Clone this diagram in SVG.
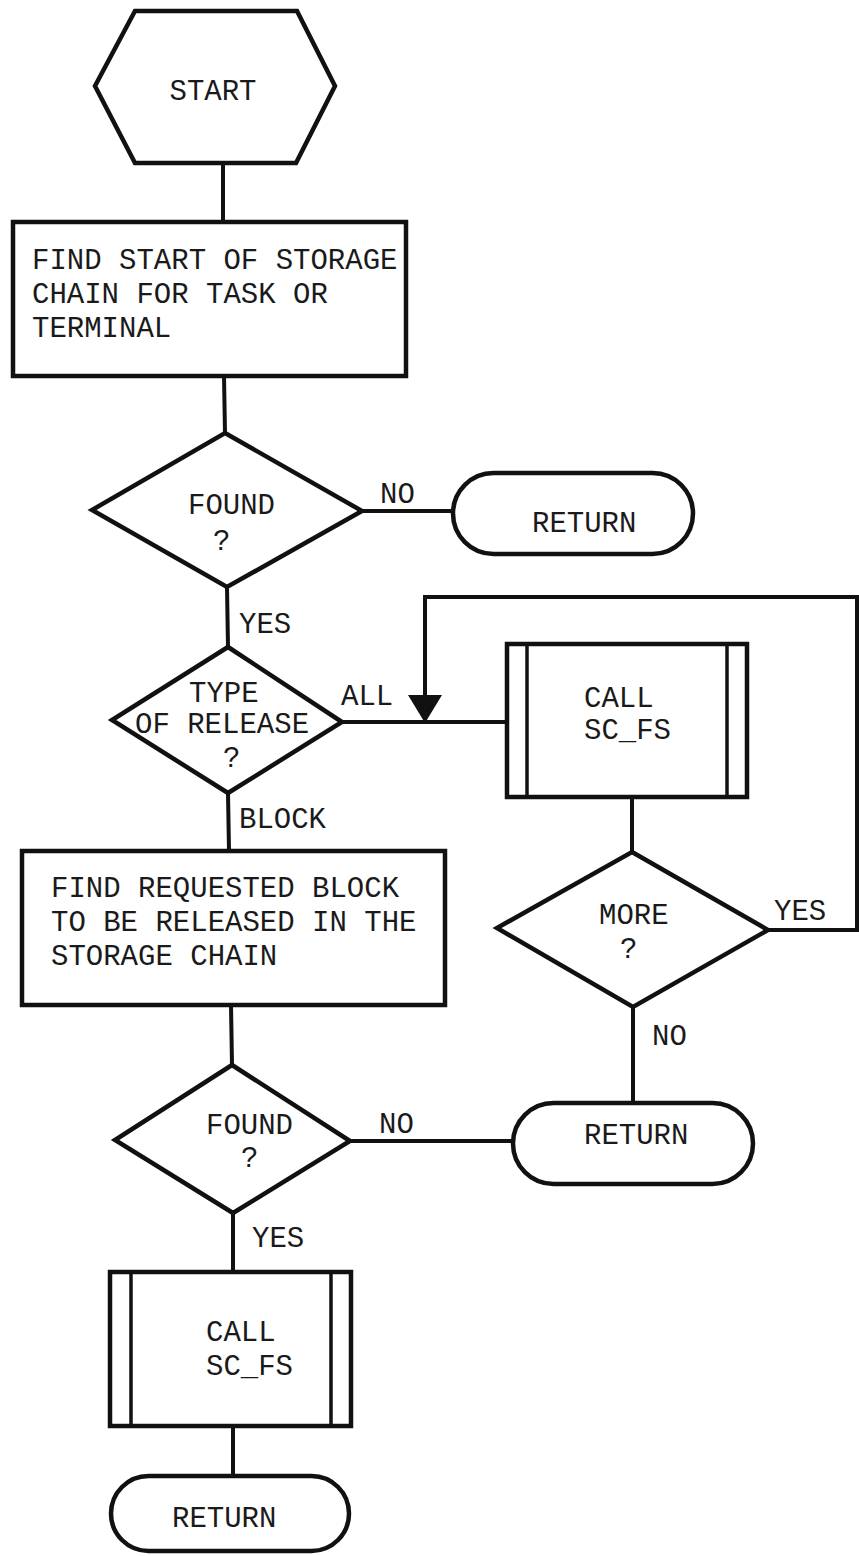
<svg xmlns="http://www.w3.org/2000/svg" width="859" height="1556" viewBox="0 0 859 1556">
  <style>
    .shape { fill: #fff; stroke: #111; stroke-width: 4.5; stroke-linejoin: miter; }
    .inner { fill: none; stroke: #111; stroke-width: 3.5; }
    .wire { fill: none; stroke: #111; stroke-width: 4; }
    text { font-family: "Liberation Mono", "DejaVu Sans Mono", monospace; font-size: 29px; fill: #1a1a1a; }
    .mid { text-anchor: middle; }
  </style>
  <defs>
    <marker id="arrowDown" markerUnits="userSpaceOnUse" markerWidth="36" markerHeight="30" refX="17" refY="28" orient="0" viewBox="0 0 36 30">
      <path d="M0,0 L34,0 L17,28 Z" fill="#111"/>
    </marker>
  </defs>
  <rect width="859" height="1556" fill="#fff"/>

  <!-- connectors and their branch labels -->
  <g id="connectors">
    <path class="wire" d="M223,163 L223,222"/>
    <path class="wire" d="M224,376 L225,433"/>
    <path class="wire" d="M362,511 L453,511"/>
    <path class="wire" d="M227,587 L228,647"/>
    <path class="wire" d="M342,722 L507,722"/>
    <path class="wire" d="M632,797 L632,852"/>
    <path class="wire" d="M768,930 L857,930 L857,597 L425,597 L425,723" marker-end="url(#arrowDown)"/>
    <path class="wire" d="M633,1007 L633,1103"/>
    <path class="wire" d="M228,793 L229,851"/>
    <path class="wire" d="M231,1005 L232,1065"/>
    <path class="wire" d="M350,1141 L513,1141"/>
    <path class="wire" d="M233,1213 L233,1272"/>
    <path class="wire" d="M233,1426 L233,1476"/>
    <text x="380" y="503">NO</text>
    <text x="239" y="633">YES</text>
    <text x="341" y="705">ALL</text>
    <text x="239" y="828">BLOCK</text>
    <text x="774" y="920">YES</text>
    <text x="652" y="1045">NO</text>
    <text x="379" y="1133">NO</text>
    <text x="252" y="1247">YES</text>
  </g>

  <g id="start">
    <polygon class="shape" points="135,11 297,11 335,86 296,163 135,163 95,86"/>
    <text x="213" y="100" class="mid">START</text>
  </g>

  <g id="find-chain">
    <rect class="shape" x="13" y="222" width="393" height="154"/>
    <text x="32" y="269">FIND START OF STORAGE</text>
    <text x="32" y="303">CHAIN FOR TASK OR</text>
    <text x="32" y="337">TERMINAL</text>
  </g>

  <g id="found-chain">
    <polygon class="shape" points="225,433 362,511 227,587 92,510"/>
    <text x="188" y="514">FOUND</text>
    <text x="213" y="550">?</text>
  </g>

  <g id="return-1">
    <rect class="shape" x="453" y="473" width="240" height="81" rx="40.5" ry="40.5"/>
    <text x="532" y="532">RETURN</text>
  </g>

  <g id="release-type">
    <polygon class="shape" points="228,647 342,722 228,793 112,720"/>
    <text x="189" y="702">TYPE</text>
    <text x="135" y="733">OF RELEASE</text>
    <text x="223" y="767">?</text>
  </g>

  <g id="call-all">
    <rect class="shape" x="507" y="644" width="240" height="153"/>
    <line class="inner" x1="527" y1="644" x2="527" y2="797"/>
    <line class="inner" x1="727" y1="644" x2="727" y2="797"/>
    <text x="584" y="707">CALL</text>
    <text x="584" y="739">SC_FS</text>
  </g>

  <g id="more">
    <polygon class="shape" points="632,852 768,930 633,1007 497,928"/>
    <text x="599" y="924">MORE</text>
    <text x="620" y="958">?</text>
  </g>

  <g id="find-block">
    <rect class="shape" x="22" y="851" width="423" height="154"/>
    <text x="51" y="897">FIND REQUESTED BLOCK</text>
    <text x="51" y="931">TO BE RELEASED IN THE</text>
    <text x="51" y="965">STORAGE CHAIN</text>
  </g>

  <g id="found-block">
    <polygon class="shape" points="232,1065 350,1141 233,1213 115,1140"/>
    <text x="206" y="1134">FOUND</text>
    <text x="241" y="1167">?</text>
  </g>

  <g id="return-2">
    <rect class="shape" x="513" y="1103" width="240" height="81" rx="40.5" ry="40.5"/>
    <text x="584" y="1144">RETURN</text>
  </g>

  <g id="call-block">
    <rect class="shape" x="110" y="1272" width="241" height="154"/>
    <line class="inner" x1="131" y1="1272" x2="131" y2="1426"/>
    <line class="inner" x1="331" y1="1272" x2="331" y2="1426"/>
    <text x="206" y="1341">CALL</text>
    <text x="206" y="1375">SC_FS</text>
  </g>

  <g id="return-3">
    <rect class="shape" x="111" y="1476" width="238" height="75" rx="37.5" ry="37.5"/>
    <text x="172" y="1527">RETURN</text>
  </g>
</svg>
